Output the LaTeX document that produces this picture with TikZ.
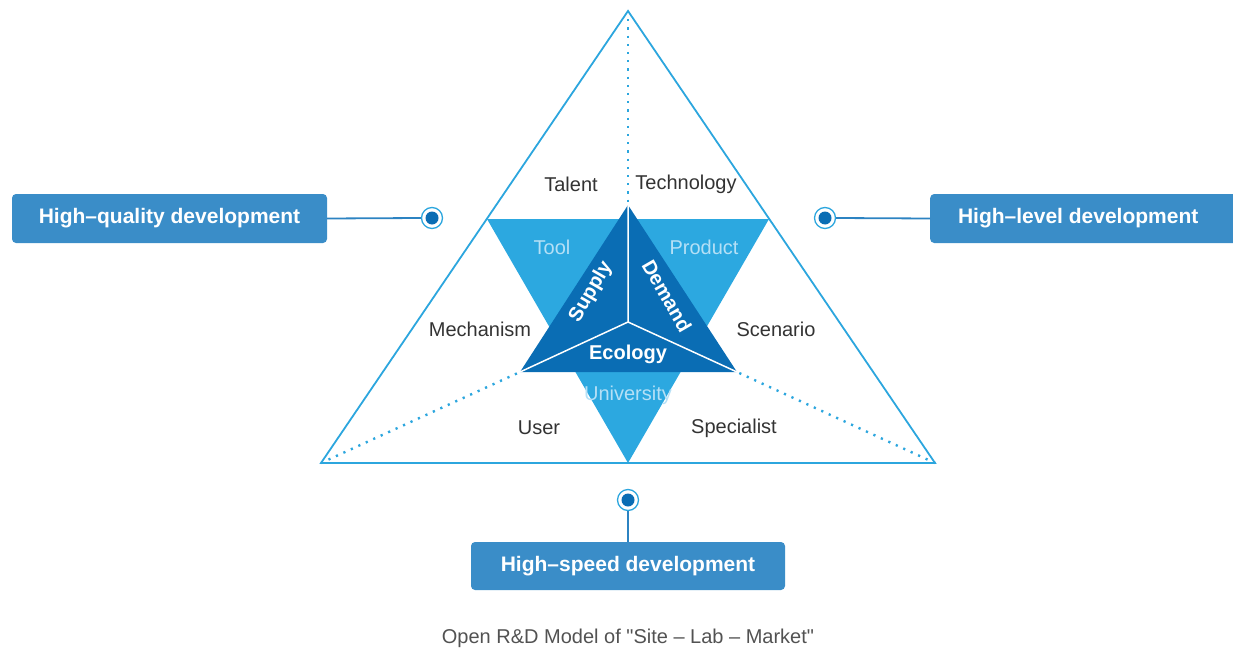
\documentclass[tikz,border=0pt]{standalone}
\usepackage{fontspec}
\setmainfont{Liberation Sans}
\newfontfamily\capfont{Liberation Sans}
\definecolor{edgeblue}{HTML}{2CA6DE}
\definecolor{lightfill}{HTML}{2CA8E0}
\definecolor{darkfill}{HTML}{0A6DB4}
\definecolor{boxblue}{HTML}{3A8DC8}
\definecolor{lighttext}{HTML}{B5E0F6}
\definecolor{graytext}{HTML}{333333}
\begin{document}
\begin{tikzpicture}[x=1pt,y=-1pt,
  lbl/.style={font=\fontsize{20}{22}\selectfont, text=graytext},
  ltxt/.style={font=\fontsize{20}{22}\selectfont, text=lighttext},
  wtxt/.style={font=\bfseries\fontsize{20}{22}\selectfont, text=white, inner sep=1pt},
  devbox/.style={fill=boxblue, rounded corners=4pt, text=white, font=\bfseries\fontsize{21}{24}\selectfont, inner sep=0pt},
  dotline/.style={edgeblue, line width=2.4pt, dash pattern=on 2.2pt off 6pt},
  conn/.style={boxblue!70!darkfill, line width=1.8pt},
  ring/.style={circle, draw=edgeblue, line width=1.3pt, fill=white, minimum size=21pt, inner sep=0pt},
  dot/.style={circle, fill=darkfill, minimum size=13pt, inner sep=0pt}]
\useasboundingbox (0,0) rectangle (1233,650);
% coordinates
\coordinate (A) at (628,11);
\coordinate (BL) at (321,463);
\coordinate (BR) at (935,463);
\coordinate (iT) at (628,205);
\coordinate (iL) at (520,372);
\coordinate (iR) at (737,372);
\coordinate (C) at (628,322);
\coordinate (vL) at (487,219);
\coordinate (vR) at (769,219);
\coordinate (vB) at (628,463);
% light inverted triangle
\fill[lightfill] (vL) -- (vR) -- (vB) -- cycle;
% dark triangle
\fill[darkfill] (iT) -- (iL) -- (iR) -- cycle;
\draw[white, line width=1.5pt] (C) -- (iT) (C) -- (iL) (C) -- (iR);
% big triangle
\draw[edgeblue, line width=1.8pt, line join=miter] (A) -- (BL) -- (BR) -- cycle;
% dotted lines
\draw[dotline] (A) -- (iT);
\draw[dotline] (BL) -- (iL);
\draw[dotline] (BR) -- (iR);
% labels
\node[lbl] (talent) at (571,184) {Talent};
\node[lbl] (tech) at (686,184) {Technology};
\node[lbl] (mech) at (480,329) {Mechanism};
\node[lbl] (scen) at (776,329) {Scenario};
\node[lbl] (user) at (539,428) {User};
\node[lbl] (spec) at (734,428) {Specialist};
\node[ltxt] (tool) at (552,247) {Tool};
\node[ltxt] (prod) at (704,247) {Product};
\node[ltxt] (univ) at (628,395) {University};
\node[wtxt, rotate=60] (supply) at (591,292) {Supply};
\node[wtxt, rotate=-60] (demand) at (667,296) {Demand};
\node[wtxt] (eco) at (628,354) {Ecology};
% boxes
\node[devbox, minimum width=315pt, minimum height=49pt] (hq) at (169.5,218.5) {High–quality development};
\node[devbox, minimum width=310pt, minimum height=49pt, anchor=west] (hl) at (930,218.5) {\hspace*{-7pt}High–level development\hspace*{7pt}};
\node[devbox, minimum width=314pt, minimum height=48pt] (hs) at (628,566) {High–speed development};
% markers
\node[ring] (mL) at (432,218) {};
\node[ring] (mR) at (825,218) {};
\node[ring] (mB) at (628,500) {};
\draw[conn] (hq.east) -- (mL.west);
\draw[conn] (mR.east) -- (hl.west);
\draw[conn] (mB.south) -- (hs.north);
\node[dot] (dL) at (mL) {};
\node[dot] (dR) at (mR) {};
\node[dot] (dB) at (mB) {};
% caption
\node[font=\capfont\fontsize{20}{22}\selectfont, text=graytext!85] (cap) at (628,638) {Open R\&D Model of "Site – Lab – Market"};
\end{tikzpicture}
\end{document}
